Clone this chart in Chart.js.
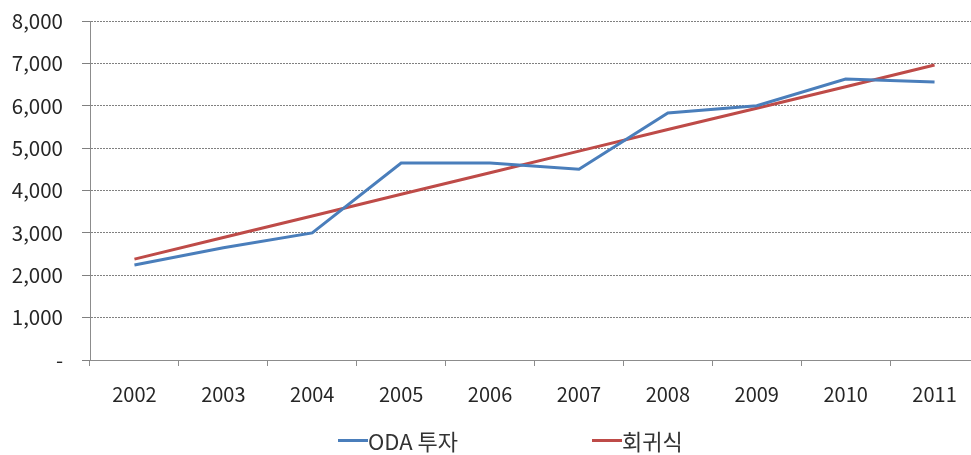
<!DOCTYPE html>
<html>
<head>
<meta charset="utf-8">
<script src="https://cdn.jsdelivr.net/npm/chart.js@4"></script>
<style>
  html, body { margin: 0; padding: 0; background: #fff; overflow: hidden; }
  #wrap { position: relative; width: 980px; height: 455px; }
  .item {
    position: absolute; top: 426px;
    font-family: "Noto Sans CJK KR", "Noto Sans", sans-serif; font-size: 22px; color: #333;
    display: flex; align-items: center; line-height: 28px;
  }
  .swatch { width: 30px; height: 3px; display: inline-block; }
</style>
</head>
<body>
<div id="wrap">
  <canvas id="chart" width="980" height="455"></canvas>
</div>
<script>
// data
const years = ["2002", "2003", "2004", "2005", "2006", "2007", "2008", "2009", "2010", "2011"];
const odaValues = [2240, 2650, 3000, 4650, 4650, 4500, 5830, 6000, 6630, 6560];
const regressionValues = [2380, 2890, 3400, 3910, 4420, 4930, 5440, 5940, 6450, 6960];
const yTickLabels = ["-", "1,000", "2,000", "3,000", "4,000", "5,000", "6,000", "7,000", "8,000"];
const seriesNames = ["ODA 투자", "회귀식"];
const seriesColors = ["#4a7ebb", "#be4b48"];

const font = "'Noto Sans CJK KR', 'Noto Sans', sans-serif";

let chart = new Chart(document.getElementById("chart").getContext("2d"), {
    type: "line",
    data: {
        labels: years,
        datasets: [
            {
                label: seriesNames[0],
                data: odaValues,
                borderColor: seriesColors[0],
                borderWidth: 3,
                pointRadius: 0,
                tension: 0,
                fill: false
            },
            {
                label: seriesNames[1],
                data: regressionValues,
                borderColor: seriesColors[1],
                borderWidth: 3,
                pointRadius: 0,
                tension: 0,
                fill: false
            }
        ]
    },
    options: {
        responsive: false,
        animation: false,
        layout: { padding: { top: 21, right: 1, bottom: 0, left: 0 } },
        plugins: {
            legend: { display: false },
            tooltip: { enabled: false }
        },
        scales: {
            x: {
                offset: true,
                grid: {
                    offset: true,
                    drawOnChartArea: false,
                    tickLength: 6,
                    color: "#8c8c8c"
                },
                border: { color: "#8c8c8c", width: 1 },
                ticks: {
                    color: "#262626",
                    padding: 16,
                    maxRotation: 0,
                    font: { family: font, size: 20 }
                },
                afterFit: (scale) => { scale.height = 95; }
            },
            y: {
                min: 0,
                max: 8000,
                grid: {
                    color: "#808080",
                    tickLength: 8
                },
                border: { color: "#8c8c8c", width: 1, dash: [2, 1] },
                ticks: {
                    stepSize: 1000,
                    color: "#262626",
                    padding: 19,
                    font: { family: font, size: 20.5 },
                    callback: (v) => yTickLabels[v / 1000]
                },
                afterFit: (scale) => {
                    scale.width = 90;
                    scale.paddingTop = 0;
                    scale.paddingBottom = 0;
                }
            }
        }
    }
});

// legend
const legendLeft = [338, 592];
let wrap = document.getElementById("wrap");
seriesNames.forEach((name, i) => {
    let item = document.createElement("div");
    item.className = "item";
    item.style.left = legendLeft[i] + "px";
    item.innerHTML = '<span class="swatch" style="background:' + seriesColors[i] + '"></span><span>' + name + '</span>';
    wrap.appendChild(item);
});
</script>
</body>
</html>
